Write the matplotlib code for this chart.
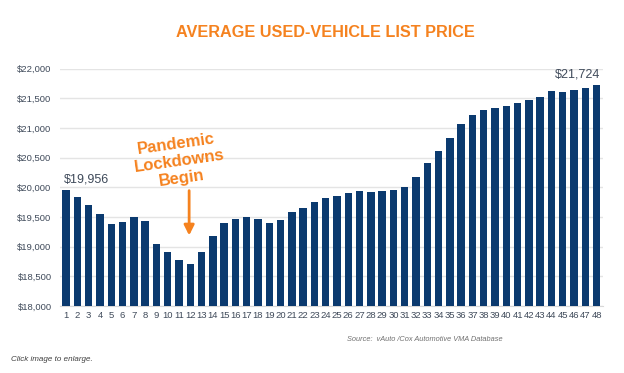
import matplotlib.pyplot as plt
from matplotlib.ticker import FuncFormatter

plt.rcParams['font.family'] = ['Liberation Sans', 'DejaVu Sans']

weeks = list(range(1, 49))
prices = [19956, 19830, 19700, 19550, 19380, 19415, 19495, 19430, 19045, 18900,
          18770, 18700, 18905, 19180, 19400, 19460, 19505, 19470, 19400, 19450,
          19575, 19650, 19750, 19815, 19855, 19900, 19945, 19920, 19930, 19950,
          20010, 20175, 20405, 20610, 20825, 21065, 21220, 21295, 21340, 21375,
          21415, 21465, 21530, 21625, 21605, 21635, 21665, 21724]
yticks = [18000, 18500, 19000, 19500, 20000, 20500, 21000, 21500, 22000]

navy = '#0B3A6F'
orange = '#F5821F'
grey = '#3F4A5A'

fig = plt.figure(figsize=(6.24, 3.73), dpi=100)
ax = fig.add_axes([0.096, 0.180, 0.870, 0.636])

ax.bar(weeks, prices, width=0.66, color=navy, zorder=3)
ax.set_ylim(18000, 22000)
ax.set_xlim(0.45, 48.55)
ax.set_yticks(yticks)
ax.yaxis.set_major_formatter(FuncFormatter(lambda v, p: '${:,.0f}'.format(v)))
ax.set_xticks(weeks)
ax.tick_params(axis='both', length=0, labelsize=6.8, colors=grey)
ax.tick_params(axis='x', pad=4)
ax.tick_params(axis='y', pad=6)
ax.grid(axis='y', color='#E4E4E4', linewidth=1, zorder=0)
for s in ['top', 'right', 'left']:
    ax.spines[s].set_visible(False)
ax.spines['bottom'].set_color('#D8D8D8')

# first and last value labels
ax.text(weeks[0] - 0.2, prices[0] + 80, '${:,}'.format(prices[0]),
        ha='left', va='bottom', fontsize=9, color=grey)
ax.text(weeks[-1] + 0.3, prices[-1] + 80, '${:,}'.format(prices[-1]),
        ha='right', va='bottom', fontsize=9, color=grey)

# lockdown annotation
ax.text(11.0, 20440, 'Pandemic\nLockdowns\nBegin', ha='center', va='center',
        rotation=8, fontsize=12, fontweight='bold', color=orange,
        linespacing=1.2)
ax.annotate('', xy=(11.9, 19140), xytext=(11.9, 19990),
            arrowprops=dict(arrowstyle='-|>,head_width=0.3,head_length=0.6',
                            color=orange, lw=2.0))

fig.text(0.522, 0.912, 'AVERAGE USED-VEHICLE LIST PRICE', ha='center', va='center',
         fontsize=11.7, fontweight='bold', color=orange)
fig.text(0.806, 0.091, 'Source:  vAuto /Cox Automotive VMA Database', ha='right',
         va='center', fontsize=5.3, style='italic', color='#707070')
fig.text(0.018, 0.036, 'Click image to enlarge.', ha='left', va='center',
         fontsize=5.8, style='italic', color='#404040')

fig.savefig('out.png', dpi=100)
